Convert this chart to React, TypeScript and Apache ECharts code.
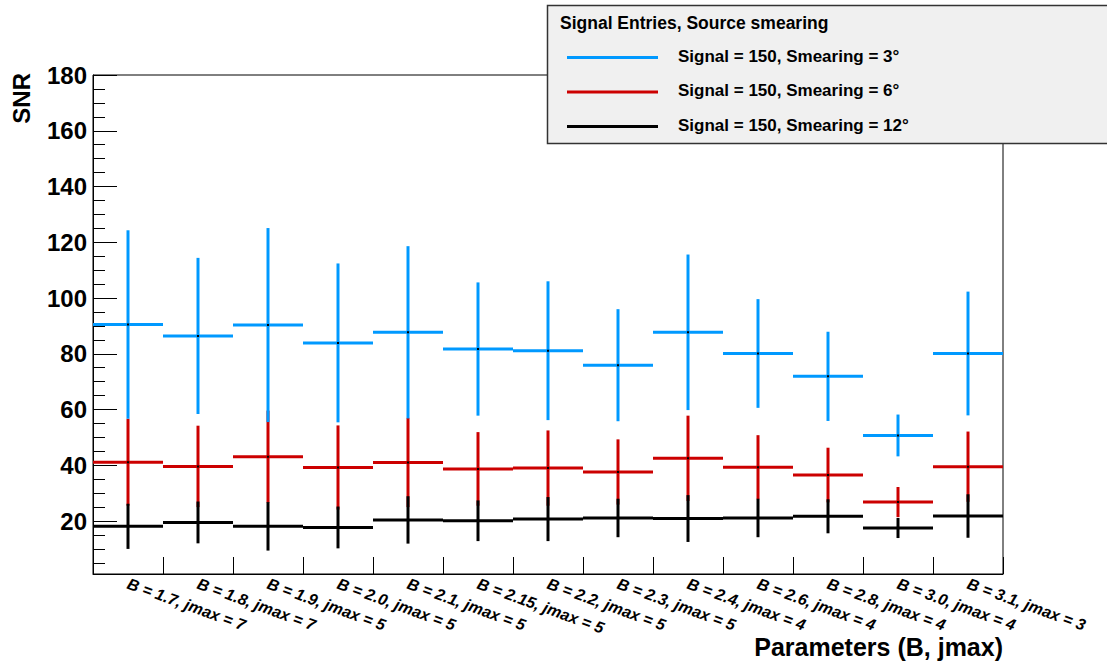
import React, { useEffect, useRef } from "react";
import * as echarts from "echarts";

// Parameter sets on the horizontal axis
const categories = [
  "B = 1.7, jmax = 7",
  "B = 1.8, jmax = 7",
  "B = 1.9, jmax = 5",
  "B = 2.0, jmax = 5",
  "B = 2.1, jmax = 5",
  "B = 2.15, jmax = 5",
  "B = 2.2, jmax = 5",
  "B = 2.3, jmax = 5",
  "B = 2.4, jmax = 4",
  "B = 2.6, jmax = 4",
  "B = 2.8, jmax = 4",
  "B = 3.0, jmax = 4",
  "B = 3.1, jmax = 3",
];

const legendTitle = "Signal Entries, Source smearing";
const seriesNames = [
  "Signal = 150, Smearing = 3°",
  "Signal = 150, Smearing = 6°",
  "Signal = 150, Smearing = 12°",
];
const seriesColors = ["#0099ff", "#cc0000", "#000000"];

// SNR mean values and their symmetric errors
const snrSmear3 = [90.5, 86.4, 90.3, 83.9, 87.7, 81.7, 81.1, 75.9, 87.7, 80.1, 71.9, 50.7, 80.1];
const errSmear3 = [33.8, 28.0, 34.8, 28.5, 30.9, 23.9, 24.9, 20.1, 27.9, 19.5, 16.0, 7.5, 22.2];

const snrSmear6 = [41.1, 39.6, 43.1, 39.2, 41.0, 38.7, 39.0, 37.6, 42.5, 39.3, 36.5, 26.8, 39.5];
const errSmear6 = [15.6, 14.6, 16.5, 15.1, 16.0, 13.2, 13.5, 11.7, 15.3, 11.5, 9.8, 5.4, 12.6];

const snrSmear12 = [18.1, 19.5, 18.1, 17.7, 20.4, 20.1, 20.7, 21.1, 20.9, 21.1, 21.7, 17.5, 21.8];
const errSmear12 = [8.1, 7.5, 8.7, 7.5, 8.5, 7.3, 7.9, 6.9, 8.4, 6.9, 6.1, 3.6, 7.8];

const yMajorTicks = [20, 40, 60, 80, 100, 120, 140, 160, 180];
const yMinorTicks = [
  5, 10, 15, 25, 30, 35, 45, 50, 55, 65, 70, 75, 85, 90, 95, 105, 110, 115,
  125, 130, 135, 145, 150, 155, 165, 170, 175,
];

const FONT = "'Liberation Sans', Arial, Helvetica, sans-serif";

function errorSeries(name: string, color: string, values: number[], errors: number[], z: number) {
  return {
    name,
    type: "custom",
    z,
    clip: true,
    data: values.map((v, i) => [i, v, errors[i]]),
    renderItem: (_params: any, api: any) => {
      const idx = api.value(0);
      const v = api.value(1);
      const e = api.value(2);
      const c = api.coord([idx, v]);
      const hi = api.coord([idx, v + e]);
      const lo = api.coord([idx, v - e]);
      const w = api.size([1, 0])[0];
      return {
        type: "group",
        children: [
          {
            type: "line",
            shape: { x1: c[0] - w / 2, y1: c[1], x2: c[0] + w / 2, y2: c[1] },
            style: { stroke: color, lineWidth: 3 },
          },
          {
            type: "line",
            shape: { x1: c[0], y1: hi[1], x2: c[0], y2: lo[1] },
            style: { stroke: color, lineWidth: 3 },
          },
          {
            type: "rect",
            shape: { x: c[0] - 1, y: c[1] - 1, width: 2, height: 2 },
            style: { fill: "#000" },
          },
        ],
      };
    },
  };
}

export default function App() {
  const ref = useRef<HTMLDivElement>(null);

  useEffect(() => {
    if (!ref.current) return;
    const chart = echarts.init(ref.current, undefined, { renderer: "svg" });

    const legendRows = [57.5, 92, 126.5];

    chart.setOption({
      animation: false,
      backgroundColor: "#ffffff",
      textStyle: { fontFamily: FONT },
      grid: {
        left: 93,
        top: 75,
        right: 104,
        bottom: 94,
        show: true,
        borderColor: "#000",
        borderWidth: 1,
        backgroundColor: "transparent",
      },
      xAxis: {
        type: "category",
        data: categories,
        boundaryGap: true,
        axisLine: { show: true, lineStyle: { color: "#000", width: 1 } },
        axisTick: { show: true, inside: true, length: 17, lineStyle: { color: "#000", width: 1 } },
        axisLabel: {
          interval: 0,
          rotate: -20,
          margin: 9,
          fontSize: 16,
          fontWeight: "bold",
          fontStyle: "italic",
          color: "#000",
          fontFamily: FONT,
          hideOverlap: false,
        },
        splitLine: { show: false },
      },
      yAxis: [
        {
          type: "value",
          min: 1,
          max: 180,
          axisLine: { show: true, lineStyle: { color: "#000", width: 1 } },
          axisTick: {
            show: true,
            inside: true,
            length: 24,
            customValues: yMajorTicks,
            lineStyle: { color: "#000", width: 1 },
          },
          axisLabel: {
            customValues: yMajorTicks,
            margin: 6,
            fontSize: 24,
            fontWeight: "bold",
            color: "#000",
            fontFamily: FONT,
          },
          splitLine: { show: false },
        },
        {
          type: "value",
          min: 1,
          max: 180,
          position: "left",
          axisLine: { show: false },
          axisTick: {
            show: true,
            inside: true,
            length: 12,
            customValues: yMinorTicks,
            lineStyle: { color: "#000", width: 1 },
          },
          axisLabel: { show: false },
          splitLine: { show: false },
        },
      ],
      series: [
        errorSeries(seriesNames[1], seriesColors[1], snrSmear6, errSmear6, 2),
        errorSeries(seriesNames[0], seriesColors[0], snrSmear3, errSmear3, 3),
        errorSeries(seriesNames[2], seriesColors[2], snrSmear12, errSmear12, 4),
      ],
      graphic: [
        {
          type: "text",
          x: 21.5,
          y: 73,
          rotation: Math.PI / 2,
          style: {
            text: "SNR",
            fill: "#000",
            font: `bold 24px ${FONT}`,
            align: "right",
            verticalAlign: "middle",
          },
        },
        {
          type: "text",
          x: 1003,
          y: 647,
          style: {
            text: "Parameters (B, jmax)",
            fill: "#000",
            font: `bold 25px ${FONT}`,
            align: "right",
            verticalAlign: "middle",
          },
        },
        {
          type: "group",
          z: 100,
          children: [
            {
              type: "rect",
              shape: { x: 547.5, y: 5.5, width: 620, height: 138 },
              style: { fill: "#f0f0f0", stroke: "#333", lineWidth: 1.5 },
            },
            {
              type: "text",
              x: 560,
              y: 22.5,
              style: {
                text: legendTitle,
                fill: "#000",
                font: `bold 17.5px ${FONT}`,
                align: "left",
                verticalAlign: "middle",
              },
            },
            ...seriesNames.flatMap((name, i) => [
              {
                type: "line",
                shape: { x1: 567, y1: legendRows[i], x2: 658, y2: legendRows[i] },
                style: { stroke: seriesColors[i], lineWidth: 3 },
              },
              {
                type: "text",
                x: 678,
                y: legendRows[i] - 1.5,
                style: {
                  text: name,
                  fill: "#000",
                  font: `bold 17px ${FONT}`,
                  align: "left",
                  verticalAlign: "middle",
                },
              },
            ]),
          ],
        },
      ],
    });

    return () => chart.dispose();
  }, []);

  return (
    <div
      ref={ref}
      style={{ position: "fixed", left: 0, top: 0, width: 1107, height: 668, background: "#fff" }}
    />
  );
}
